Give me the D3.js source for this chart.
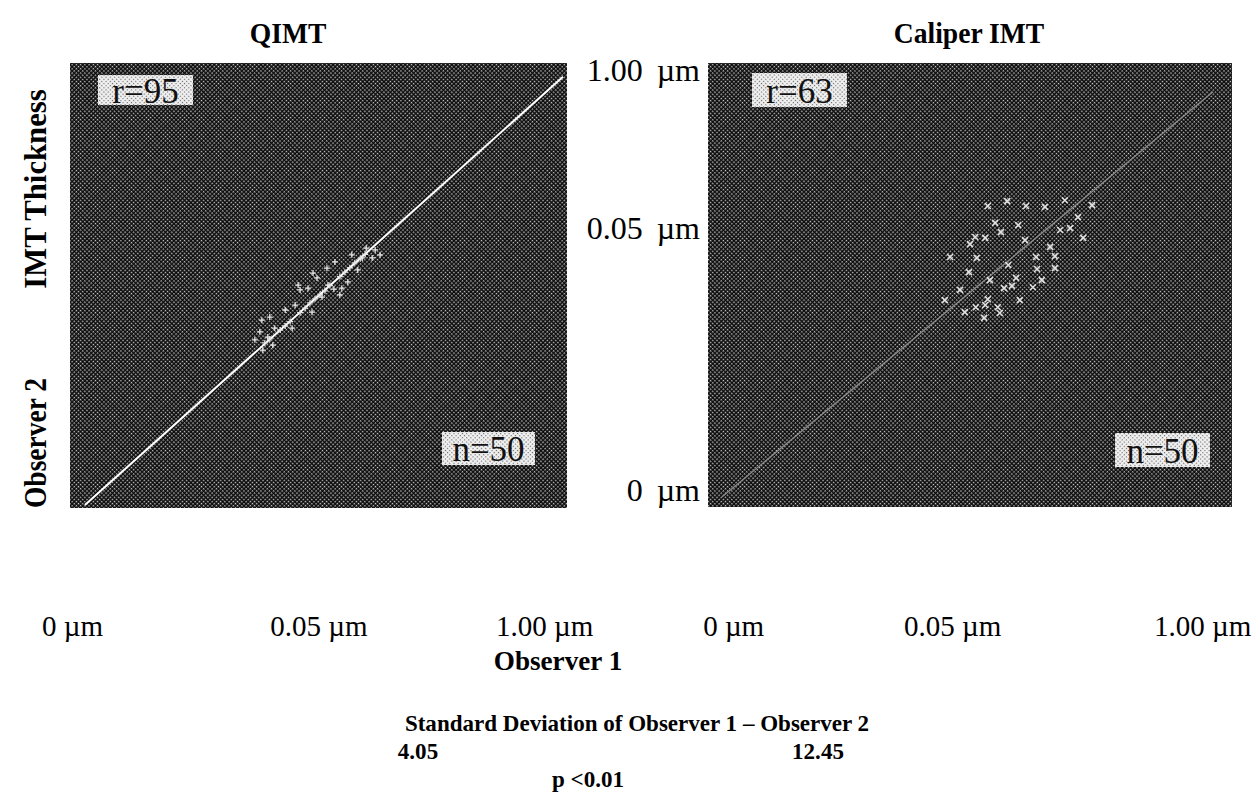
<!DOCTYPE html>
<html>
<head>
<meta charset="utf-8">
<script src="https://cdn.jsdelivr.net/npm/d3@7"></script>
<style>
  body { margin: 0; background: #fff; }
  text { font-family: "Liberation Serif", "Times New Roman", serif; fill: #000; }
</style>
</head>
<body>
<div id="chart"></div>
<script>
// Panel titles and labels
const panelTitles = ["QIMT", "Caliper IMT"];
const rLabels = ["r=95", "r=63"];
const nLabels = ["n=50", "n=50"];

// Tick labels (same for both axes) and their positions in panel units
const tickLabels = ["0 \u00b5m", "0.05 \u00b5m", "1.00 \u00b5m"];
const qimtXTicks = [0.004, 0.5, 0.954];
const caliperXTicks = [0.048, 0.466, 0.943];
const yTicks = [0.038, 0.628, 0.984];

// Identity (regression) lines, start and end in panel units
const qimtLine = [[0.030, 0.007], [0.992, 0.969]];
const caliperLine = [[0.027, 0.023], [0.964, 0.935]];

// QIMT: observer 1 vs observer 2
const qimtObs1 = [0.567, 0.588, 0.608, 0.533, 0.517, 0.489, 0.497, 0.479, 0.459, 0.519,
  0.531, 0.547, 0.559, 0.513, 0.507, 0.487, 0.433, 0.402, 0.447, 0.412,
  0.382, 0.398, 0.392, 0.408, 0.388, 0.614, 0.596, 0.402, 0.423, 0.443,
  0.463, 0.473, 0.493, 0.503, 0.523, 0.543, 0.563, 0.573, 0.594, 0.553,
  0.483, 0.433, 0.584, 0.543, 0.453, 0.372, 0.579, 0.463, 0.624, 0.386];
const qimtObs2 = [0.569, 0.562, 0.562, 0.553, 0.539, 0.528, 0.517, 0.494, 0.501, 0.501,
  0.492, 0.494, 0.508, 0.488, 0.474, 0.440, 0.445, 0.429, 0.404, 0.404,
  0.396, 0.384, 0.371, 0.366, 0.355, 0.580, 0.584, 0.380, 0.400, 0.419,
  0.439, 0.449, 0.470, 0.479, 0.500, 0.520, 0.540, 0.551, 0.570, 0.530,
  0.461, 0.409, 0.560, 0.479, 0.456, 0.378, 0.535, 0.490, 0.569, 0.422];

// Caliper IMT: observer 1 vs observer 2
const caliperObs1 = [0.534, 0.571, 0.607, 0.643, 0.681, 0.706, 0.691, 0.716, 0.548, 0.559,
  0.592, 0.529, 0.510, 0.500, 0.462, 0.513, 0.626, 0.662, 0.653, 0.662,
  0.628, 0.498, 0.588, 0.637, 0.620, 0.565, 0.580, 0.534, 0.529, 0.511,
  0.553, 0.557, 0.490, 0.527, 0.733, 0.672, 0.605, 0.481, 0.573, 0.538,
  0.595, 0.452];
const caliperObs2 = [0.678, 0.689, 0.678, 0.676, 0.691, 0.653, 0.628, 0.606, 0.640, 0.619,
  0.635, 0.606, 0.608, 0.592, 0.563, 0.561, 0.563, 0.565, 0.586, 0.538,
  0.536, 0.529, 0.516, 0.511, 0.495, 0.493, 0.498, 0.468, 0.455, 0.450,
  0.450, 0.437, 0.439, 0.426, 0.680, 0.624, 0.601, 0.489, 0.545, 0.511,
  0.466, 0.466];

// summary statistics
const sdTitle = "Standard Deviation of Observer 1 \u2013 Observer 2";
const sdValues = ["4.05", "12.45"];
const pValue = "p <0.01";

const width = 1260;
const height = 792;

const svg = d3.select("#chart").append("svg")
  .attr("width", width)
  .attr("height", height);

// condensed bold label, like the typeset original
function boldText(x, y, str, size, sx, rotate) {
  return svg.append("text")
    .attr("transform", `translate(${x},${y})` + (rotate ? " rotate(-90)" : "") + ` scale(${sx},1)`)
    .attr("text-anchor", "middle")
    .style("font-size", size + "px")
    .style("font-weight", "bold")
    .text(str);
}

// halftone-like screens
const defs = svg.append("defs");
const dark = defs.append("pattern")
  .attr("id", "darkScreen")
  .attr("patternUnits", "userSpaceOnUse")
  .attr("width", 3).attr("height", 3)
  .attr("patternTransform", "rotate(45)");
dark.append("rect").attr("width", 3).attr("height", 3).attr("fill", "#0c0c0c");
dark.append("rect").attr("width", 1.4).attr("height", 1.4).attr("fill", "#d0d0d0");

const light = defs.append("pattern")
  .attr("id", "lightScreen")
  .attr("patternUnits", "userSpaceOnUse")
  .attr("width", 3).attr("height", 3)
  .attr("patternTransform", "rotate(45)");
light.append("rect").attr("width", 3).attr("height", 3).attr("fill", "#f2f2f2");
light.append("rect").attr("width", 1.2).attr("height", 1.2).attr("fill", "#666");

const panels = [
  { title: panelTitles[0], r: rLabels[0], n: nLabels[0], x0: 70, x1: 567, y0: 508, y1: 63,
    xs: qimtObs1, ys: qimtObs2, fit: qimtLine, xTicks: qimtXTicks, titleX: 288,
    lineColor: "#fff", lineWidth: 2, mark: 3, markWidth: 1.3, markColor: "#e6e6e6",
    rBox: [98, 75, 95, 30], nBox: [442, 432, 93, 33] },
  { title: panelTitles[1], r: rLabels[1], n: nLabels[1], x0: 708, x1: 1232, y0: 507, y1: 63,
    xs: caliperObs1, ys: caliperObs2, fit: caliperLine, xTicks: caliperXTicks, titleX: 969,
    lineColor: "#8c8c8c", lineWidth: 1.3, mark: 3, markWidth: 1.6, markColor: "#e0e0e0",
    rBox: [752, 73, 95, 34], nBox: [1115, 433, 95, 34] }
];

panels.forEach((p, i) => {
  const x = d3.scaleLinear().domain([0, 1]).range([p.x0, p.x1]);
  const y = d3.scaleLinear().domain([0, 1]).range([p.y0, p.y1]);
  const g = svg.append("g");

  g.append("rect")
    .attr("x", x(0)).attr("y", y(1))
    .attr("width", x(1) - x(0)).attr("height", y(0) - y(1))
    .attr("fill", "url(#darkScreen)");

  // line of identity
  g.append("path")
    .datum(p.fit)
    .attr("d", d3.line().x(d => x(d[0])).y(d => y(d[1])))
    .attr("stroke", p.lineColor)
    .attr("stroke-width", p.lineWidth)
    .attr("fill", "none");

  // points as small crosses
  const pts = p.xs.map((v, k) => [v, p.ys[k]]);
  const s = p.mark;
  g.selectAll(".pt")
    .data(pts)
    .join("path")
    .attr("class", "pt")
    .attr("d", d => {
      const cx = x(d[0]), cy = y(d[1]);
      return i === 0
        ? `M${cx - s},${cy}H${cx + s}M${cx},${cy - s}V${cy + s}`
        : `M${cx - s},${cy - s}L${cx + s},${cy + s}M${cx - s},${cy + s}L${cx + s},${cy - s}`;
    })
    .attr("stroke", p.markColor)
    .attr("stroke-width", p.markWidth);

  // r and n boxes
  [[p.rBox, p.r], [p.nBox, p.n]].forEach(([b, label]) => {
    g.append("rect")
      .attr("x", b[0]).attr("y", b[1])
      .attr("width", b[2]).attr("height", b[3])
      .attr("fill", "url(#lightScreen)");
    g.append("text")
      .attr("x", b[0] + b[2] / 2).attr("y", b[1] + b[3] / 2)
      .attr("dy", "0.36em")
      .attr("text-anchor", "middle")
      .style("font-size", "35px")
      .style("fill", "#111")
      .text(label);
  });

  // title
  boldText(p.titleX, 43, p.title, 30, 0.92);

  // x axis
  const xAxis = d3.axisBottom(x)
    .tickValues(p.xTicks)
    .tickFormat((d, k) => tickLabels[k])
    .tickSize(0)
    .tickPadding(0);
  const ax = svg.append("g")
    .attr("transform", "translate(0,615)")
    .call(xAxis);
  ax.select(".domain").remove();
  ax.selectAll("text")
    .attr("font-family", null)
    .style("font-size", "29px");

  // y axis only beside the right panel
  if (i === 1) {
    const yAxis = d3.axisLeft(y)
      .tickValues(yTicks)
      .tickFormat((d, k) => tickLabels[k])
      .tickSize(0)
      .tickPadding(8);
    const ay = svg.append("g")
      .attr("transform", `translate(${p.x0},0)`)
      .call(yAxis);
    ay.select(".domain").remove();
    ay.selectAll("text")
      .attr("font-family", null)
      .style("font-size", "32px")
      .style("word-spacing", "6px");
  }
});

// axis titles
boldText(46, 443, "Observer 2", 32, 0.86, true);
boldText(46, 189, "IMT Thickness", 32, 0.96, true);
boldText(558, 670, "Observer 1", 28, 0.97);

boldText(637, 731, sdTitle, 24, 0.96);
const sdValueX = [418, 818];
sdValues.forEach((v, k) => boldText(sdValueX[k], 759, v, 24, 0.96));
boldText(588, 787, pValue, 24, 0.96);
</script>
</body>
</html>
